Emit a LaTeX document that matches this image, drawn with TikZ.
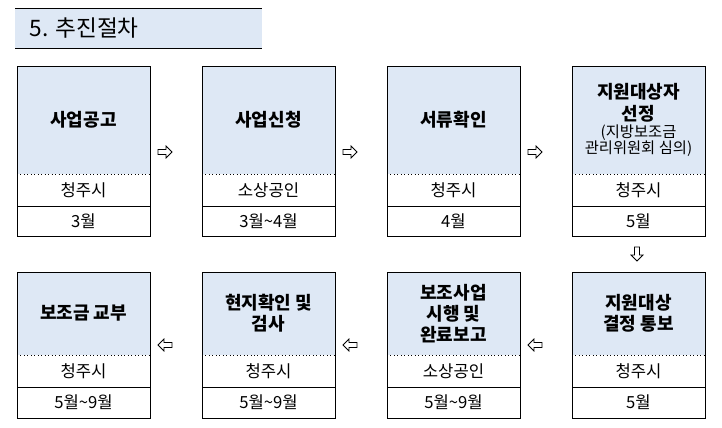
\documentclass[tikz,border=0pt]{standalone}
\usepackage{fontspec}
\setmainfont{Noto Sans CJK KR}
\definecolor{lb}{RGB}{222,232,245}
\begin{document}
\begin{tikzpicture}[x=0.75pt,y=-0.75pt,
  ttl/.style={font=\bfseries\fontsize{13.5}{16}\selectfont,align=center},
  sub/.style={font=\fontsize{12.5}{14}\selectfont},
  arr/.pic={\draw[line width=0.6pt,fill=white] (-7,-2.5)--(1,-2.5)--(1,-6)--(7,0)--(1,6)--(1,2.5)--(-7,2.5)--cycle;}]
\useasboundingbox (0,0) rectangle (722,428);
\fill[lb] (15,8) rectangle (262,48);
\draw[line width=0.6pt] (15,8)--(262,8) (15,48)--(262,48);
\node[anchor=west,font=\fontsize{17}{20}\selectfont] (t) at (25,28) {5. 추진절차};
\newcommand\pbox[9]{%
  \fill[lb] (#1,#2) rectangle (#1+133,#3);
  \draw[line width=0.6pt] (#1,#2) rectangle (#1+133,#5);
  \draw[dotted,line width=0.6pt] (#1,#3)--(#1+133,#3);
  \draw[line width=0.6pt] (#1,#4)--(#1+133,#4);
  \node[ttl] (#9a) at (#1+66.5,{(#2+#3)/2}) {#6};
  \node[sub] (#9b) at (#1+66.5,{(#3+#4)/2}) {#7};
  \node[sub] (#9c) at (#1+66.5,{(#4+#5)/2}) {#8};}
\pbox{17}{66}{174}{206}{236}{사업공고}{청주시}{3월}{b1}
\pbox{202}{66}{174}{206}{236}{사업신청}{소상공인}{3월\textasciitilde4월}{b2}
\pbox{387}{66}{174}{206}{236}{서류확인}{청주시}{4월}{b3}
\pbox{572}{66}{174}{206}{236}{지원대상자\\선정\\[-3pt]{\mdseries\fontsize{11.5}{13}\selectfont (지방보조금}\\[-4pt]{\mdseries\fontsize{11.5}{13}\selectfont 관리위원회 심의)}}{청주시}{5월}{b4}
\pbox{572}{272}{355}{387}{418}{지원대상\\결정 통보}{청주시}{5월}{b5}
\pbox{387}{272}{355}{387}{418}{보조사업\\시행 및\\완료보고}{소상공인}{5월\textasciitilde9월}{b6}
\pbox{202}{272}{355}{387}{418}{현지확인 및\\검사}{청주시}{5월\textasciitilde9월}{b7}
\pbox{17}{272}{355}{387}{418}{보조금 교부}{청주시}{5월\textasciitilde9월}{b8}
\pic at (165,152) {arr};
\pic at (350,152) {arr};
\pic at (535,152) {arr};
\pic[rotate=-90] at (637,254) {arr};
\pic[rotate=180] at (535,345) {arr};
\pic[rotate=180] at (350,345) {arr};
\pic[rotate=180] at (165,345) {arr};
\end{tikzpicture}
\end{document}
